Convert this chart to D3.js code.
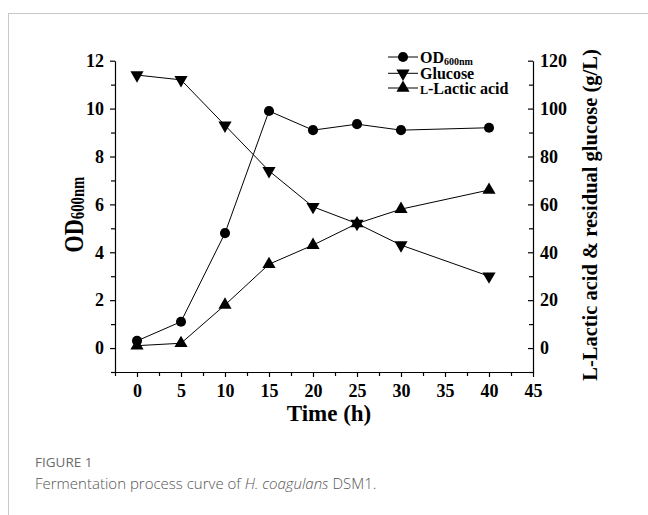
<!DOCTYPE html>
<html><head><meta charset="utf-8">
<script src="https://cdn.jsdelivr.net/npm/d3@7"></script>
<style>body{margin:0;background:#fff}svg{display:block}</style>
</head><body>
<svg id="c" width="648" height="515"></svg>
<script>
const time = [0, 5, 10, 15, 20, 25, 30, 40];
const od600 = [0.3, 1.1, 4.8, 9.9, 9.1, 9.35, 9.1, 9.2];
const glucose = [114, 112, 93, 74, 59, 52, 43, 30];
const lactic = [1, 2, 18, 35, 43, 52, 58, 66];
const xTicks = [0, 5, 10, 15, 20, 25, 30, 35, 40, 45];
const yLeftTicks = [0, 2, 4, 6, 8, 10, 12];
const yRightTicks = [0, 20, 40, 60, 80, 100, 120];

const svg = d3.select("#c");
const serif = "'Liberation Serif','Times New Roman',serif";

// card border
svg.append("rect").attr("x", 8.5).attr("y", 13.5).attr("width", 700).attr("height", 600)
  .attr("fill", "none").attr("stroke", "#c8c8c8").attr("stroke-width", 1);

const x = d3.scaleLinear().domain([-2.5, 45]).range([115, 533]);
const yL = d3.scaleLinear().domain([-1, 12]).range([372, 60.7]);
const yR = d3.scaleLinear().domain([-10, 120]).range([372, 60.7]);

function styleAxis(g) {
  g.select(".domain").attr("stroke", "#000").attr("stroke-width", 1.2);
  g.selectAll(".tick line").attr("stroke", "#000").attr("stroke-width", 1.2);
  g.selectAll(".tick text").attr("font-family", serif).attr("font-weight", "bold")
    .attr("font-size", 18).attr("fill", "#000");
}

// minor ticks
const xMinor = d3.range(-2.5, 45, 2.5).filter(v => v % 5 !== 0);
const gxMinor = svg.append("g").attr("transform", "translate(0,372)")
  .call(d3.axisBottom(x).tickValues(xMinor).tickSize(4).tickFormat(""));
gxMinor.select(".domain").remove();
gxMinor.selectAll(".tick line").attr("stroke", "#000").attr("stroke-width", 1.2);

const gx = svg.append("g").attr("transform", "translate(0,372)")
  .call(d3.axisBottom(x).tickValues(xTicks).tickSize(5).tickSizeOuter(0).tickPadding(7));
styleAxis(gx);

const yLMinor = d3.range(-1, 12, 2);
const gyLMinor = svg.append("g").attr("transform", "translate(115,0)")
  .call(d3.axisLeft(yL).tickValues(yLMinor).tickSize(4).tickFormat(""));
gyLMinor.select(".domain").remove();
gyLMinor.selectAll(".tick line").attr("stroke", "#000").attr("stroke-width", 1.2);

const gyL = svg.append("g").attr("transform", "translate(115,0)")
  .call(d3.axisLeft(yL).tickValues(yLeftTicks).tickSize(5).tickSizeOuter(0).tickPadding(6));
styleAxis(gyL);

const yRMinor = d3.range(-10, 120, 20);
const gyRMinor = svg.append("g").attr("transform", "translate(533,0)")
  .call(d3.axisRight(yR).tickValues(yRMinor).tickSize(-4).tickFormat(""));
gyRMinor.select(".domain").remove();
gyRMinor.selectAll(".tick line").attr("stroke", "#000").attr("stroke-width", 1.2);

const gyR = svg.append("g").attr("transform", "translate(533,0)")
  .call(d3.axisRight(yR).tickValues(yRightTicks).tickSize(-5).tickSizeOuter(0).tickPadding(6));
styleAxis(gyR);
gyR.selectAll(".tick text").attr("x", 7);

// axis titles
svg.append("text").attr("x", 329).attr("y", 421).attr("text-anchor", "middle")
  .attr("font-family", serif).attr("font-weight", "bold").attr("font-size", 23).text("Time (h)");

const yt = svg.append("text").attr("transform", "translate(83,214.5) rotate(-90) scale(0.82,1)")
  .attr("text-anchor", "middle").attr("font-family", serif).attr("font-weight", "bold").attr("font-size", 27);
yt.append("tspan").text("OD");
yt.append("tspan").attr("font-size", 18).attr("dy", 1).text("600nm");

svg.append("text").attr("transform", "translate(597,215) rotate(-90)")
  .attr("text-anchor", "middle").attr("font-family", serif).attr("font-weight", "bold")
  .attr("font-size", 20.5).text("L-Lactic acid & residual glucose (g/L)");

// series
const lineL = d3.line().x((d, i) => x(time[i])).y(d => yL(d));
const lineR = d3.line().x((d, i) => x(time[i])).y(d => yR(d));
svg.append("path").attr("d", lineL(od600)).attr("fill", "none").attr("stroke", "#000").attr("stroke-width", 1);
svg.append("path").attr("d", lineR(glucose)).attr("fill", "none").attr("stroke", "#000").attr("stroke-width", 1);
svg.append("path").attr("d", lineR(lactic)).attr("fill", "none").attr("stroke", "#000").attr("stroke-width", 1);

const circ = d3.symbol().type(d3.symbolCircle).size(80);
const tri = d3.symbol().type(d3.symbolTriangle).size(75);

svg.append("g").selectAll("path").data(od600).join("path")
  .attr("d", circ).attr("transform", (d, i) => `translate(${x(time[i])},${yL(d)})`).attr("fill", "#000");
svg.append("g").selectAll("path").data(glucose).join("path")
  .attr("d", tri).attr("transform", (d, i) => `translate(${x(time[i])},${yR(d)}) rotate(180)`).attr("fill", "#000");
svg.append("g").selectAll("path").data(lactic).join("path")
  .attr("d", tri).attr("transform", (d, i) => `translate(${x(time[i])},${yR(d)})`).attr("fill", "#000");

// legend
const legendItems = ["od", "glu", "lac"];
const lg = svg.append("g");
const ly = [57, 73.3, 88];
legendItems.forEach((k, i) => {
  lg.append("line").attr("x1", 388).attr("x2", 418).attr("y1", ly[i]).attr("y2", ly[i]).attr("stroke", "#000").attr("stroke-width", 1);
  const sym = k === "od" ? circ : tri;
  lg.append("path").attr("d", sym).attr("fill", "#000")
    .attr("transform", `translate(403,${ly[i]})` + (k === "glu" ? " rotate(180)" : ""));
  const t = lg.append("text").attr("x", 420).attr("y", ly[i] + 5.5).attr("font-family", serif)
    .attr("font-weight", "bold").attr("font-size", 16);
  if (k === "od") {
    t.append("tspan").text("OD");
    t.append("tspan").attr("font-size", 10).attr("dy", 2).text("600nm");
  } else if (k === "glu") {
    t.text("Glucose");
  } else {
    t.append("tspan").attr("font-size", 12).text("L");
    t.append("tspan").text("-Lactic acid");
  }
});

// caption
svg.append("text").attr("x", 35).attr("y", 467).attr("font-family", "'Open Sans','Noto Sans',sans-serif")
  .attr("font-size", 13.5).attr("fill", "#6b6b6b").text("FIGURE 1");
const cap = svg.append("text").attr("x", 35).attr("y", 489).attr("font-family", "'Open Sans','Noto Sans',sans-serif")
  .attr("font-size", 15).attr("font-weight", 300).attr("fill", "#555");
cap.append("tspan").text("Fermentation process curve of ");
cap.append("tspan").attr("font-style", "italic").text("H. coagulans");
cap.append("tspan").text(" DSM1.");
</script>
</body></html>
